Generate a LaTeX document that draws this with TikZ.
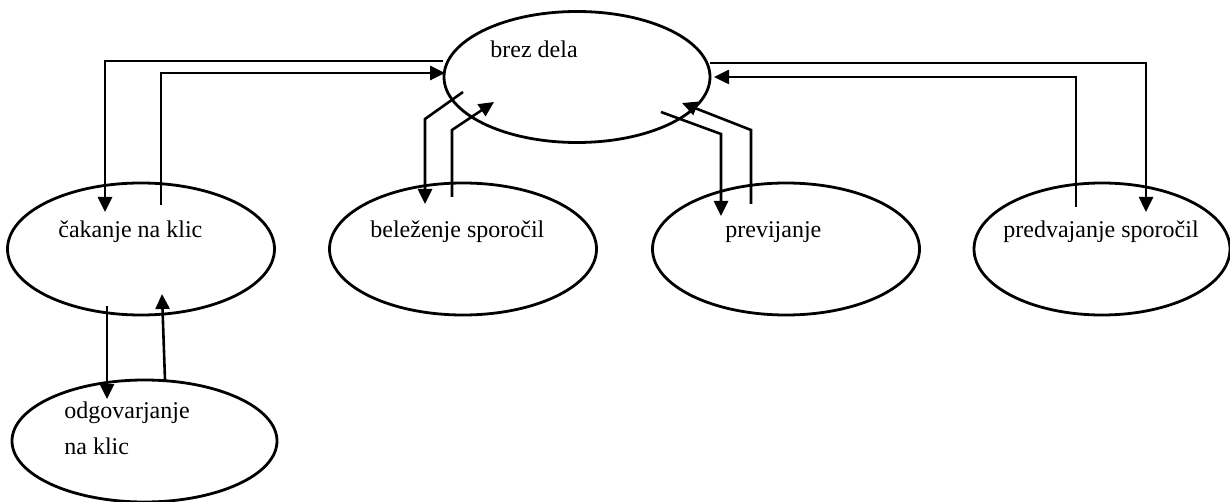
\documentclass[tikz,border=0pt]{standalone}
\usepackage{fontspec}
\setmainfont{Liberation Serif}
\usetikzlibrary{arrows.meta,shapes.geometric}

\begin{document}
\begin{tikzpicture}[x=0.5pt,y=-0.5pt,
  state/.style={draw, ellipse, line width=1.4pt, inner sep=0pt},
  lbl/.style={anchor=base west, inner sep=0pt, font=\fontsize{12}{14}\selectfont},
  flow/.style={line width=1.3pt, -{Triangle[length=7.5pt,width=7pt]}}]
\useasboundingbox (0,0) rectangle (1230,502);

% states
\node[state, minimum width=133pt, minimum height=65.5pt] (brez) at (577,77) {};
\node[state, minimum width=133.5pt, minimum height=66pt] (cak) at (141,249) {};
\node[state, minimum width=133.5pt, minimum height=66pt] (bel) at (463,249) {};
\node[state, minimum width=133.5pt, minimum height=66pt] (prev) at (786,249) {};
\node[state, minimum width=128pt, minimum height=66pt] (pred) at (1102,249) {};
\node[state, minimum width=132.5pt, minimum height=61pt] (odg) at (144.5,441) {};

% state names
\node[lbl] (tbrez) at (490,58) {brez dela};
\node[lbl] (tcak) at (58,237) {čakanje na klic};
\node[lbl] (tbel) at (370,237) {beleženje sporočil};
\node[lbl] (tprev) at (725,237) {previjanje};
\node[lbl] (tpred) at (1003,237) {predvajanje sporočil};
\node[lbl] (todg1) at (64,418) {odgovarjanje};
\node[lbl] (todg2) at (64,454) {na klic};

% connector end points
\coordinate (bzA) at (443,61);
\coordinate (cakIn) at (105,212);
\coordinate (cakOut) at (161,205);
\coordinate (bzB) at (445,73);
\coordinate (bzC) at (463,92);
\coordinate (belIn) at (425,204);
\coordinate (belOut) at (452,197);
\coordinate (bzD) at (494,102);
\coordinate (bzE) at (661,112);
\coordinate (prevIn) at (721,216);
\coordinate (prevOut) at (751,204);
\coordinate (bzF) at (682,103);
\coordinate (bzG) at (710,63);
\coordinate (predIn) at (1146,212);
\coordinate (predOut) at (1076,207);
\coordinate (bzH) at (714,77);
\coordinate (cakDown) at (107,306);
\coordinate (odgIn) at (107,399);
\coordinate (odgOut) at (165,380);
\coordinate (cakUp) at (162,294);

% transitions
\draw[flow] (bzA) -| (cakIn);
\draw[flow] (cakOut) |- (bzB);
\draw[flow] (bzC) -- (425,119) -- (belIn);
\draw[flow] (belOut) -- (452,130) -- (bzD);
\draw[flow] (bzE) -- (721,134) -- (prevIn);
\draw[flow] (prevOut) -- (751,130) -- (bzF);
\draw[flow] (bzG) -| (predIn);
\draw[flow] (predOut) |- (bzH);
\draw[flow] (cakDown) -- (odgIn);
\draw[flow] (odgOut) -- (cakUp);
\end{tikzpicture}
\end{document}
